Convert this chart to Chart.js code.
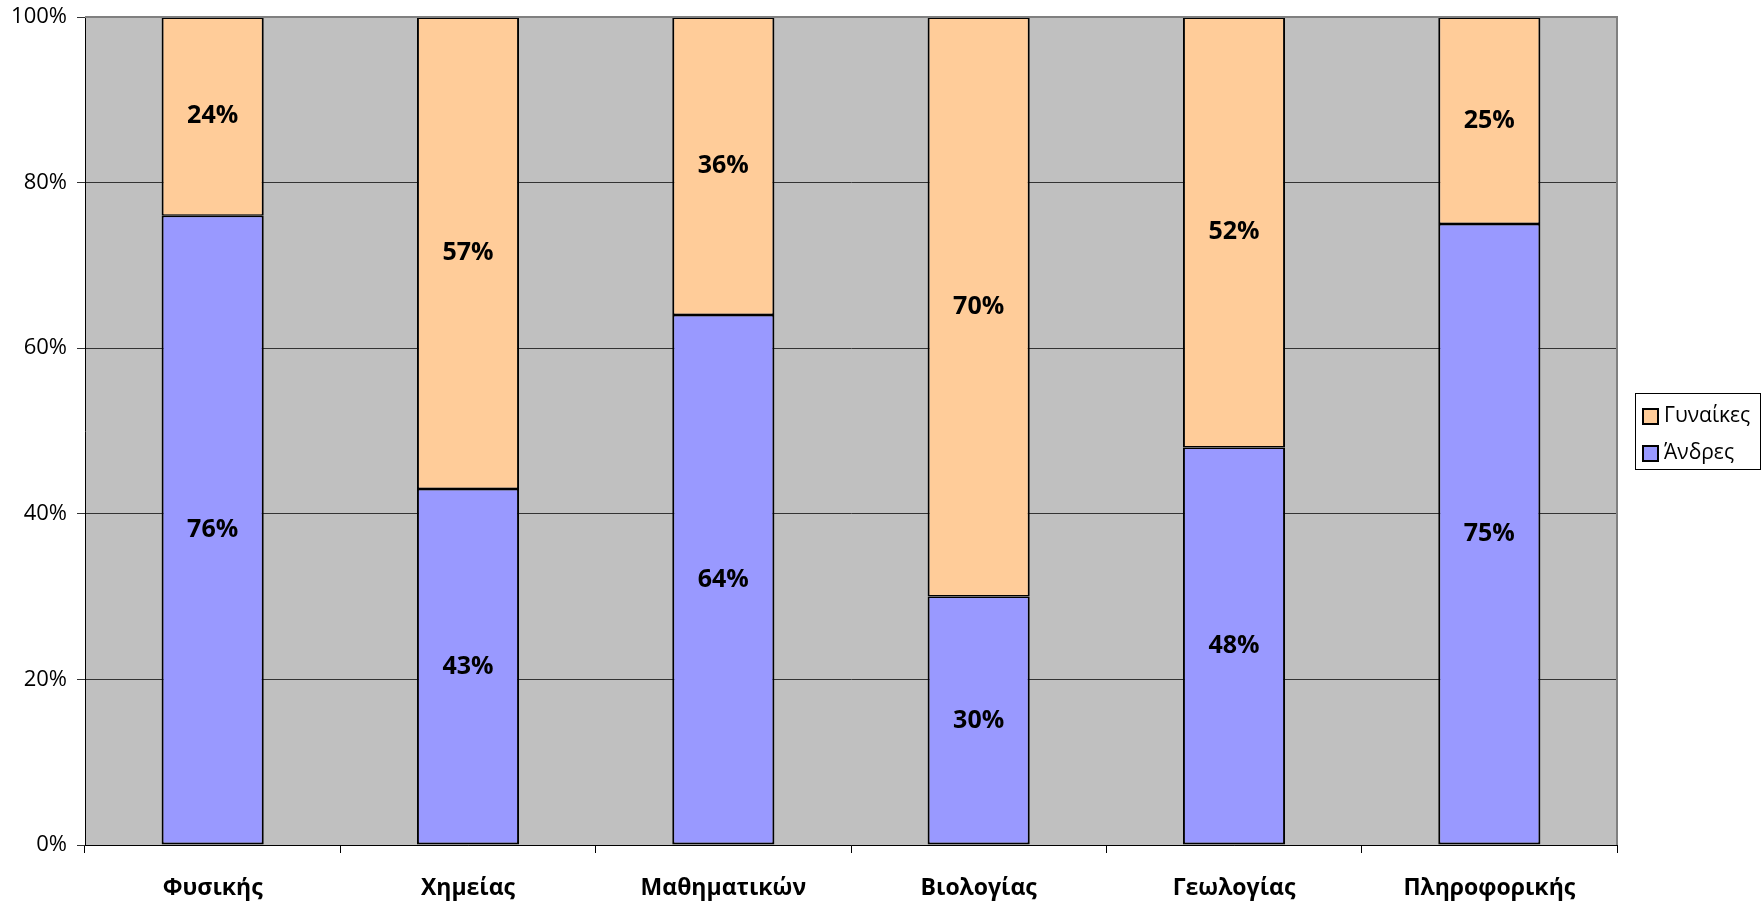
<!DOCTYPE html>
<html>
<head>
<meta charset="utf-8">
<script src="https://cdn.jsdelivr.net/npm/chart.js@4/dist/chart.umd.min.js"></script>
<style>
  body { margin: 0; background: #fff; }
  canvas { display: block; }
</style>
</head>
<body>
<canvas id="chart" width="1762" height="905"></canvas>
<script>
// Stacked 100% bars: share of men / women per department.

const CATEGORIES = ['Φυσικής', 'Χημείας', 'Μαθηματικών', 'Βιολογίας', 'Γεωλογίας', 'Πληροφορικής'];
const MEN = [76, 43, 64, 30, 48, 75];
const WOMEN = [24, 57, 36, 70, 52, 25];
const Y_TICKS = [0, 20, 40, 60, 80, 100];

const BLUE = '#9999FF';
const PEACH = '#FFCC99';
const PLOT_BG = '#C0C0C0';
const FONT = '"Open Sans", "DejaVu Sans", sans-serif';

// grey plot area, plus the grey frame Excel draws on top / right
const plotArea = {
    id: 'plotArea',
    beforeDraw(chart) {
        const { ctx, chartArea: a } = chart;
        ctx.save();
        ctx.fillStyle = PLOT_BG;
        ctx.fillRect(a.left, a.top, a.right - a.left, a.bottom - a.top);
        ctx.restore();
    },
    afterDraw(chart) {
        const { ctx, chartArea: a } = chart;
        ctx.save();
        ctx.strokeStyle = '#808080';
        ctx.lineWidth = 2;
        ctx.beginPath();
        ctx.moveTo(a.left, a.top);
        ctx.lineTo(a.right, a.top);
        ctx.lineTo(a.right, a.bottom);
        ctx.stroke();
        ctx.restore();
    }
};

// percentage text in the middle of every segment
const segmentLabels = {
    id: 'segmentLabels',
    afterDatasetsDraw(chart) {
        const { ctx } = chart;
        ctx.save();
        ctx.font = 'bold 25px ' + FONT;
        ctx.fillStyle = '#000';
        ctx.textAlign = 'center';
        ctx.textBaseline = 'middle';
        chart.data.datasets.forEach((ds, i) => {
            chart.getDatasetMeta(i).data.forEach((bar, j) => {
                const p = bar.getCenterPoint();
                ctx.fillText(ds.data[j] + '%', p.x, p.y);
            });
        });
        ctx.restore();
    }
};

// boxed legend on the right, women first
const boxLegend = {
    id: 'boxLegend',
    afterDraw(chart) {
        const { ctx } = chart;
        const x = 1635, y = 393, w = 126, h = 77;
        ctx.save();
        ctx.fillStyle = '#fff';
        ctx.fillRect(x, y, w, h);
        ctx.strokeStyle = '#000';
        ctx.lineWidth = 1;
        ctx.strokeRect(x + 0.5, y + 0.5, w - 1, h - 1);
        const items = [chart.data.datasets[1], chart.data.datasets[0]];
        ctx.font = '21px ' + FONT;
        ctx.textBaseline = 'middle';
        items.forEach((ds, i) => {
            const cy = y + 23 + i * 37;
            ctx.fillStyle = ds.backgroundColor;
            ctx.fillRect(x + 8, cy - 7, 15, 15);
            ctx.strokeStyle = '#000';
            ctx.lineWidth = 2;
            ctx.strokeRect(x + 8, cy - 7, 15, 15);
            ctx.fillStyle = '#000';
            ctx.fillText(ds.label, x + 29, cy);
        });
        ctx.restore();
    }
};

new Chart(document.getElementById('chart'), {
    type: 'bar',
    data: {
        labels: CATEGORIES,
        datasets: [
            { label: 'Άνδρες', data: MEN, backgroundColor: BLUE,
              borderWidth: { top: 1.5, left: 2, right: 2, bottom: 2 } },
            { label: 'Γυναίκες', data: WOMEN, backgroundColor: PEACH,
              borderWidth: { top: 2, left: 2, right: 2, bottom: 1.5 } }
        ]
    },
    options: {
        responsive: false,
        animation: false,
        devicePixelRatio: 1,
        layout: { padding: { top: 17, right: 145, left: 0, bottom: 0 } },
        datasets: {
            bar: {
                categoryPercentage: 1,
                barPercentage: 0.4,
                borderColor: '#000',
                borderSkipped: false
            }
        },
        plugins: {
            legend: { display: false },
            tooltip: { enabled: false }
        },
        scales: {
            x: {
                stacked: true,
                afterFit: (s) => { s.height = 60; s.paddingLeft = 0; s.paddingRight = 0; },
                grid: { offset: true, drawOnChartArea: false, color: '#000', tickLength: 8 },
                border: { color: '#000', width: 1 },
                ticks: { color: '#000', padding: 22, font: { family: FONT, size: 23, weight: 'bold' } }
            },
            y: {
                stacked: true,
                min: 0,
                max: 100,
                afterFit: (s) => { s.width = 85; s.paddingTop = 0; s.paddingBottom = 0; },
                afterBuildTicks: (s) => { s.ticks = Y_TICKS.map(v => ({ value: v })); },
                grid: { color: '#333', lineWidth: 1, tickLength: 8 },
                border: { color: '#000', width: 1 },
                ticks: {
                    color: '#000',
                    padding: 10,
                    font: { family: FONT, size: 22 },
                    callback: (v) => v + '%'
                }
            }
        }
    },
    plugins: [plotArea, segmentLabels, boxLegend]
});
</script>
</body>
</html>
